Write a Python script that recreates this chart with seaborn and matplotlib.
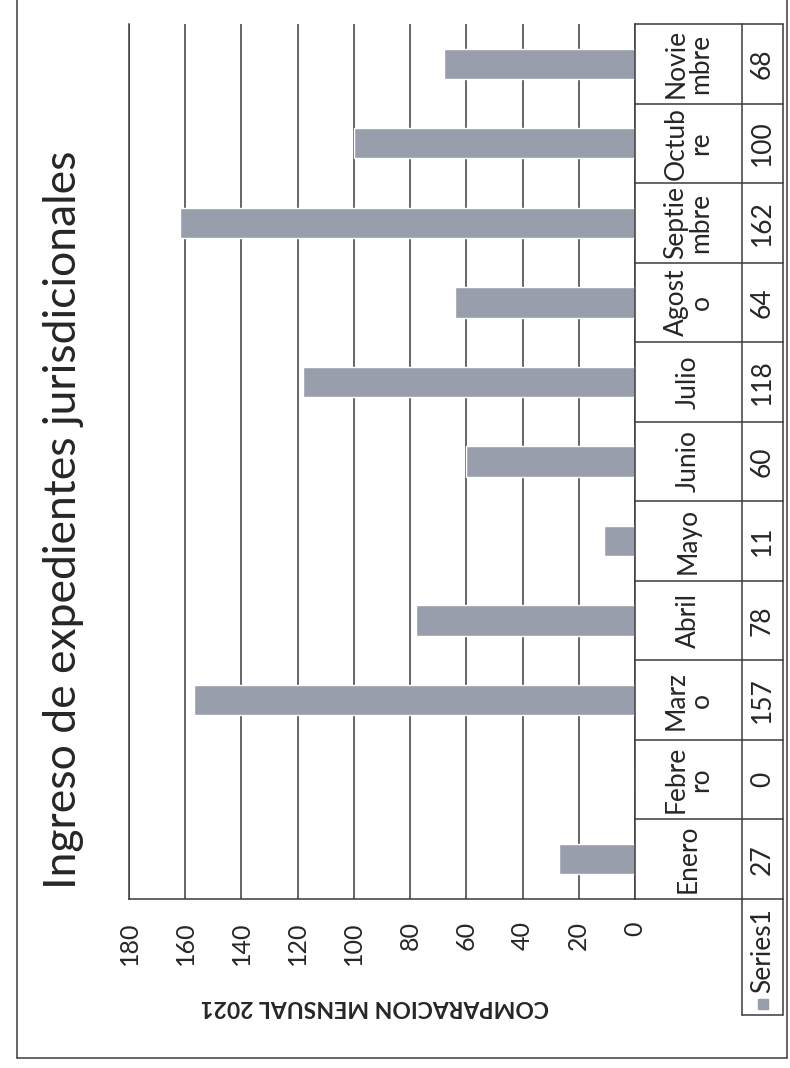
import matplotlib
matplotlib.use('Agg')
import matplotlib.pyplot as plt
import seaborn as sb
import pandas as pd
from matplotlib.lines import Line2D

# Datos del grafico
meses = ['Enero', 'Febrero', 'Marzo', 'Abril', 'Mayo', 'Junio', 'Julio',
         'Agosto', 'Septiembre', 'Octubre', 'Noviembre']
etiquetas = ['Enero', 'Febre\nro', 'Marz\no', 'Abril', 'Mayo', 'Junio', 'Julio',
             'Agost\no', 'Septie\nmbre', 'Octub\nre', 'Novie\nmbre']
valores = [27, 0, 157, 78, 11, 60, 118, 64, 162, 100, 68]
ticks = [0, 20, 40, 60, 80, 100, 120, 140, 160, 180]
serie = 'Series1'
titulo = 'Ingreso de expedientes jurisdicionales'
eje = 'COMPARACION MENSUAL 2021'

sb.set_style('white')
plt.rcParams['font.family'] = ['Lato', 'DejaVu Sans']

W, H = 790, 1068
gris = '#989eac'
linea = '#3a3a3a'
texto = '#262626'

fig = plt.figure(figsize=(W / 100, H / 100), dpi=100)

# area del grafico (rotado 90 grados)
x_izq, x_der, y_sup, y_inf = 129, 635, 24, 899
ax = fig.add_axes([x_izq / W, 1 - y_inf / H, (x_der - x_izq) / W, (y_inf - y_sup) / H])

df = pd.DataFrame({'mes': meses, 'valor': valores})
sb.barplot(data=df, x='valor', y='mes', order=meses[::-1], orient='h',
           color=gris, saturation=1, width=0.38, ax=ax)

ax.set_xlim(180, 0)
ax.set_ylim(len(meses) - 0.5, -0.5)
ax.set_xticks(ticks)
ax.set_xticklabels(ticks, rotation=90)
ax.tick_params(axis='x', length=0, pad=16, labelsize=18, colors=texto)
ax.set_yticks([])
ax.set_ylabel('')
ax.grid(axis='x', color=linea, lw=1.1)
ax.set_axisbelow(True)
for s in ['left', 'bottom', 'right']:
    ax.spines[s].set_color(linea)
    ax.spines[s].set_linewidth(1.1)
ax.spines['top'].set_visible(False)

ax.set_xlabel(eje, rotation=180, fontsize=16.5, fontweight='bold', va='center', color=texto)
ax.xaxis.set_label_coords((375 - x_izq) / (x_der - x_izq), -(1007 - y_inf) / (y_inf - y_sup))

# tabla de datos a la derecha
tr = ax.get_yaxis_transform()
ancho = x_der - x_izq
x0 = 1.0
x1 = (742 - x_izq) / ancho
x2 = (783 - x_izq) / ancho
n = len(meses)
paso = (y_inf - y_sup) / n
for b in range(n + 1):
    yb = b - 0.5
    ax.plot([x0, x2], [yb, yb], color=linea, lw=1.1, transform=tr, clip_on=False)
for xv in [x1, x2]:
    ax.plot([xv, xv], [-0.5, n - 0.5], color=linea, lw=1.1, transform=tr, clip_on=False)

for i, (et, v) in enumerate(zip(etiquetas, valores)):
    p = n - 1 - i
    ax.text((x0 + x1) / 2, p, et, transform=tr, rotation=90, ha='center', va='center',
            fontsize=19, linespacing=1.0, multialignment='center', color=texto)
    ax.text((x1 + x2) / 2, p, str(v), transform=tr, rotation=90, ha='center', va='center',
            fontsize=19, color=texto)

# celda de la leyenda
ys = n - 0.5 + (1015 - y_inf) / paso
for xv in [x1, x2]:
    ax.plot([xv, xv], [n - 0.5, ys], color=linea, lw=1.1, transform=tr, clip_on=False)
ax.plot([x1, x2], [ys, ys], color=linea, lw=1.1, transform=tr, clip_on=False)
ax.text((x1 + x2) / 2, n - 0.5 + (951 - y_inf) / paso, serie, transform=tr, rotation=90,
        ha='center', va='center', fontsize=19, color=texto)
ax.plot([(x1 + x2) / 2], [n - 0.5 + (1004 - y_inf) / paso], marker='s', ms=7, color=gris,
        transform=tr, clip_on=False)

# titulo
fig.text(64 / W, 1 - 520 / H, titulo, rotation=90, ha='center', va='center',
         fontsize=32, color=texto)

# marco exterior
fig.add_artist(Line2D([17 / W, 17 / W], [1 - 1058 / H, 1], color=linea, lw=1.1))
fig.add_artist(Line2D([787 / W, 787 / W], [1 - 1058 / H, 1], color=linea, lw=1.1))
fig.add_artist(Line2D([17 / W, 787 / W], [1 - 1058 / H, 1 - 1058 / H], color=linea, lw=1.1))

fig.savefig('out.png', dpi=100)
